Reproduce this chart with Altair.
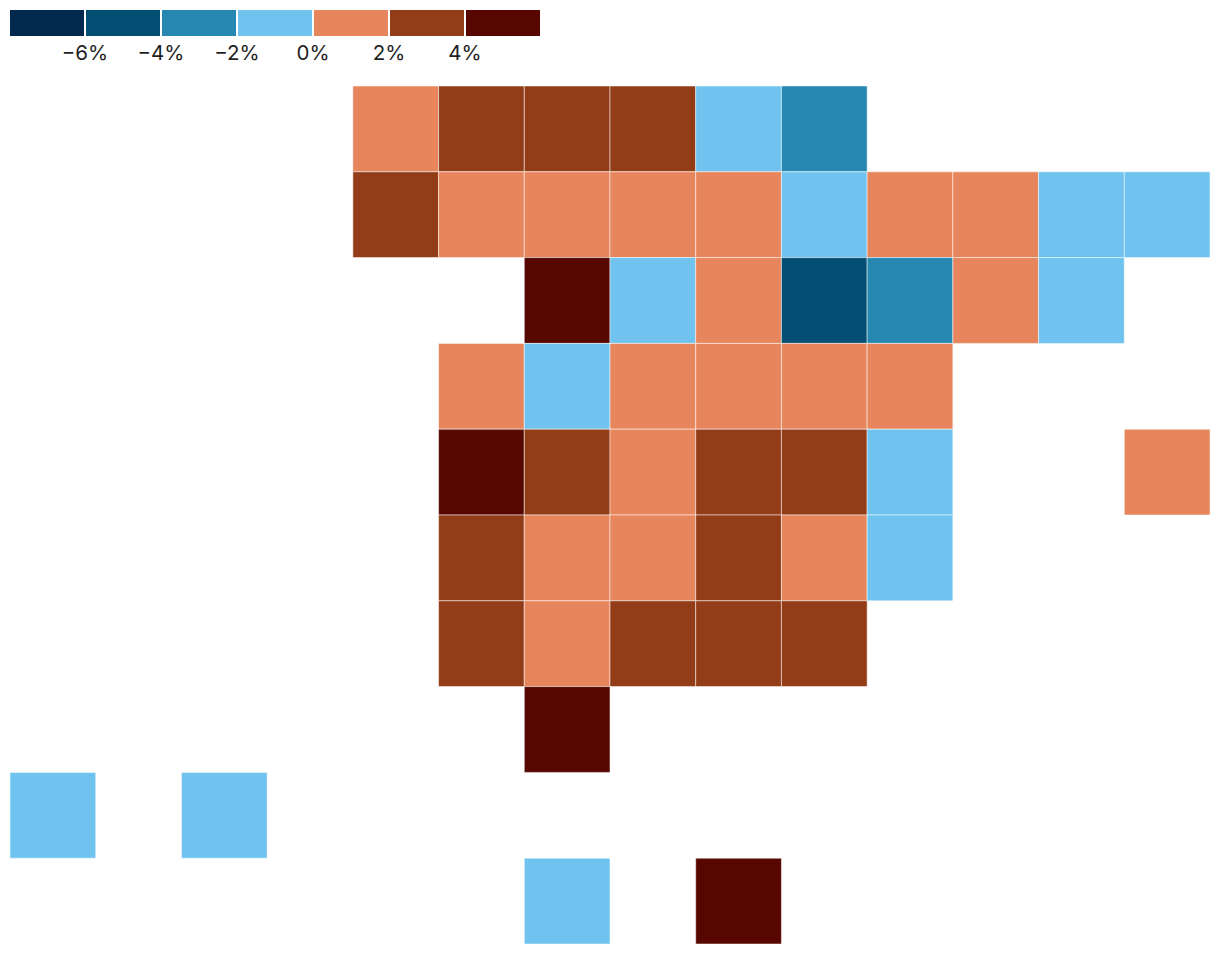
import altair as alt
import pandas as pd

thresholds = [-0.06, -0.04, -0.02, 0, 0.02, 0.04]
colors = ["#01294d", "#024f73", "#2687b0", "#6fc3ee", "#e7865c", "#923d18", "#570700"]

rows = [0]*6 + [1]*10 + [2]*7 + [3]*6 + [4]*7 + [5]*6 + [6]*5 + [7] + [8]*2 + [9]*2
cols = [4,5,6,7,8,9,
        4,5,6,7,8,9,10,11,12,13,
        6,7,8,9,10,11,12,
        5,6,7,8,9,10,
        5,6,7,8,9,10,13,
        5,6,7,8,9,10,
        5,6,7,8,9,
        6,
        0,2,
        6,8]
values = [0.01,0.03,0.03,0.03,-0.01,-0.03,
          0.03,0.01,0.01,0.01,0.01,-0.01,0.01,0.01,-0.01,-0.01,
          0.05,-0.01,0.01,-0.05,-0.03,0.01,-0.01,
          0.01,-0.01,0.01,0.01,0.01,0.01,
          0.05,0.03,0.01,0.03,0.03,-0.01,0.01,
          0.03,0.01,0.01,0.03,0.01,-0.01,
          0.03,0.01,0.03,0.03,0.03,
          0.05,
          -0.01,-0.01,
          -0.01,0.05]

df = pd.DataFrame({"row": rows, "col": cols, "value": values})

chart = (
    alt.Chart(df)
    .mark_rect(stroke="white", strokeWidth=0.5, x2Offset=0.6, y2Offset=0.4)
    .encode(
        x=alt.X("col:O", axis=None, scale=alt.Scale(domain=list(range(14)), paddingInner=0, paddingOuter=0)),
        y=alt.Y("row:O", axis=None, scale=alt.Scale(domain=list(range(10)), paddingInner=0, paddingOuter=0)),
        color=alt.Color(
            "value:Q",
            scale=alt.Scale(type="threshold", domain=thresholds, range=colors),
            legend=alt.Legend(
                type="gradient",
                orient="none",
                direction="horizontal",
                legendX=-1,
                legendY=-77,
                title=None,
                format=".0%",
                gradientLength=532,
                gradientThickness=28,
                gradientStrokeColor="white",
                gradientStrokeWidth=2,
                labelFont="Inter",
                labelFontSize=20.5,
                labelColor="#1f1f1f",
                labelOffset=7,
                labelOverlap=False,
            ),
        ),
    )
    .properties(width=1200, height=858, padding={"left": 1, "top": 1, "right": 0, "bottom": 0})
    .configure_view(stroke=None)
)

chart.save("out.html", embed_options={"renderer": "svg", "actions": False})
